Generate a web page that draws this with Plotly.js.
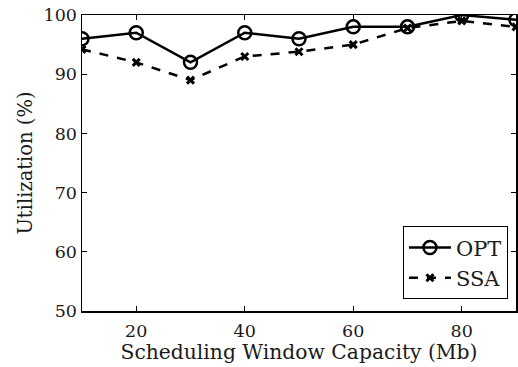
<!DOCTYPE html>
<html>
<head>
<meta charset="utf-8">
<script src="https://cdn.plot.ly/plotly-3.0.1.min.js"></script>
<style>html,body{margin:0;padding:0;background:#fff;}</style>
</head>
<body>
<div id="chart" style="width:518px;height:367px;"></div>
<script>
// Scheduling window capacity (Mb)
const capacity = [10, 20, 30, 40, 50, 60, 70, 80, 90];
// Utilization (%) per scheme
const optUtil = [96, 97, 92, 97, 96, 98, 98, 100, 99.2];
const ssaUtil = [94.2, 92, 89, 93, 93.8, 95, 97.8, 99, 98];
const xTicks = [20, 40, 60, 80];
const yTicks = [50, 60, 70, 80, 90, 100];

const family = '"DejaVu Serif", "Liberation Serif", serif';
const tickFont = {family: family, size: 17.5, color: '#1a1a1a'};
const xTitleFont = {family: family, size: 20.3, color: '#1a1a1a'};
const yTitleFont = {family: family, size: 19.5, color: '#1a1a1a'};

const traces = [
  {
    x: capacity, y: optUtil, name: 'OPT', mode: 'lines+markers',
    line: {color: '#000', width: 2.5},
    marker: {symbol: 'circle-open', size: 13, color: '#000', line: {width: 2.5}}
  },
  {
    x: capacity, y: ssaUtil, name: 'SSA', mode: 'lines+markers',
    line: {color: '#000', width: 2.5, dash: 'dash'},
    marker: {symbol: 'x-thin-open', size: 7, color: '#000', line: {width: 3}}
  }
];

const axisCommon = {
  showline: true, linecolor: '#000', linewidth: 1.5, mirror: 'ticks',
  ticks: 'inside', ticklen: 5, tickcolor: '#000', tickwidth: 1,
  showgrid: false, zeroline: false, tickfont: tickFont
};

const layout = {
  width: 518, height: 367,
  margin: {l: 82, r: 2, t: 15, b: 56},
  paper_bgcolor: '#fff', plot_bgcolor: '#fff',
  font: tickFont,
  showlegend: true,
  xaxis: Object.assign({}, axisCommon, {
    range: [10, 90], tickvals: xTicks, ticklabelstandoff: 3,
    title: {text: 'Scheduling Window Capacity (Mb)', font: xTitleFont, standoff: 0}
  }),
  yaxis: Object.assign({}, axisCommon, {
    range: [50, 100], tickvals: yTicks,
    title: {text: 'Utilization (%)', font: yTitleFont, standoff: 6}
  }),
  legend: {
    x: 0.981, y: 0.04, xanchor: 'right', yanchor: 'bottom',
    bordercolor: '#000', borderwidth: 1.2, bgcolor: '#fff',
    font: {family: family, size: 21, color: '#1a1a1a'},
    tracegroupgap: 0, itemwidth: 42
  }
};

Plotly.newPlot('chart', traces, layout, {displayModeBar: false, staticPlot: true});
</script>
</body>
</html>
